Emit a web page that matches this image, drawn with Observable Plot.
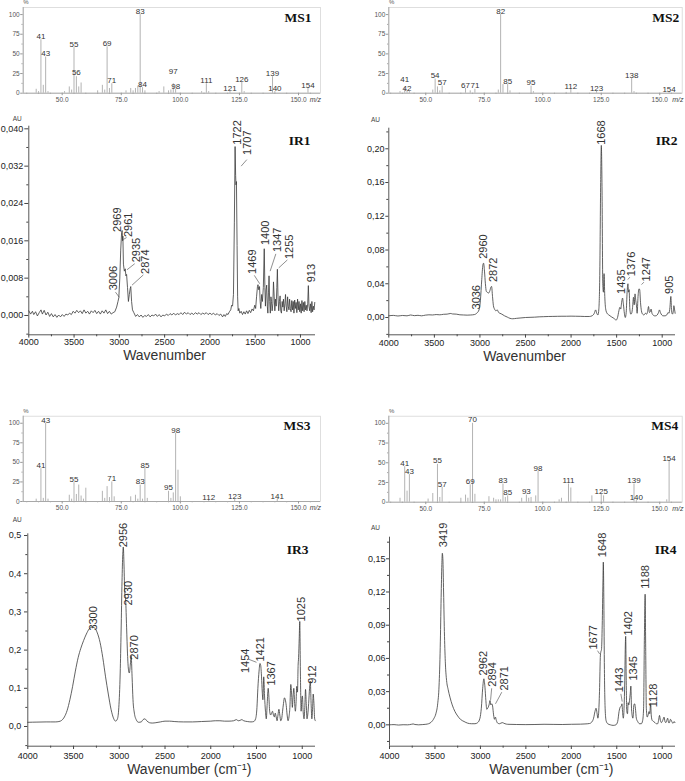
<!DOCTYPE html>
<html><head><meta charset="utf-8">
<script src="https://cdn.jsdelivr.net/npm/d3@7"></script>
<script src="https://cdn.jsdelivr.net/npm/@observablehq/plot@0.6"></script>
<style>
body{margin:0;background:#fff;width:685px;height:781px;position:relative;overflow:hidden;font-family:"Liberation Sans",Arial,sans-serif}
.panel{position:absolute}
.panel svg{overflow:visible;background:transparent}
</style></head><body>
<div id="ms1" class="panel" style="left:0;top:0"></div>
<div id="ms2" class="panel" style="left:340px;top:0"></div>
<div id="ir1" class="panel" style="left:0;top:105px"></div>
<div id="ir2" class="panel" style="left:340px;top:105px"></div>
<div id="ms3" class="panel" style="left:0;top:408px"></div>
<div id="ms4" class="panel" style="left:340px;top:408px"></div>
<div id="ir3" class="panel" style="left:0;top:515px"></div>
<div id="ir4" class="panel" style="left:340px;top:515px"></div>
<script>
// ---------- MS data: [m/z, relative intensity %] ----------
const ms1Peaks = [[39,5],[40,2],[41,68],[42,10],[43,46],[44,2],[51,2],[53,8],[54,4],[55,58],[56,21],[57,8],[58,13],[65,3],[67,10],[68,4],[69,59],[70,6],[71,12],[77,3],[79,6],[80,3],[81,6],[82,9],[83,100],[84,7],[85,3],[91,2],[93,8],[95,3],[96,4],[97,12],[98,5],[109,2],[111,12],[112,2],[121,2],[126,14],[127,2],[139,21],[140,2],[154,6]];
const ms1Labels = [[41,68.6],[43,46.6],[55,58],[56,23],[69,59.3],[71,12.7],[83,100.4],[84,7.6],[97,23.3],[98,5],[111,11.9],[121,2],[126,14],[139,21.2],[140,2],[154,6.4]];

const ms2Peaks = [[39,2],[41,7],[42,3],[43,2],[53,4],[54,18],[55,8],[56,3],[57,9],[67,6],[69,3],[71,5],[81,4],[82,100],[83,11],[85,11],[86,3],[95,9],[96,2],[110,1],[112,5],[123,2.5],[138,19],[139,2],[154,1]];
const ms2Labels = [[41,14],[42,2.4],[54,18.6],[57,9.3],[67,6.4],[71,5.9],[82,100],[85,11.4],[95,9.3],[112,5],[123,2.5],[138,19],[154,0.8]];

const ms3Peaks = [[39,3],[41,42],[42,4],[43,100],[44,3],[53,8],[54,3],[55,24],[56,9],[57,21],[58,7],[59,3],[60,17],[67,13],[68,4],[69,19],[70,5],[71,25],[72,6],[79,6],[81,8],[82,3],[83,21],[84,3],[85,42],[86,4],[95,13],[96,4],[97,11],[98,87],[99,40],[100,6],[112,1.5],[123,3],[141,3]];
const ms3Labels = [[41,42.5],[43,100],[55,24],[71,25.5],[83,22],[85,42.5],[95,14],[98,87],[112,1.3],[123,3],[141,3]];

const ms4Peaks = [[39,5],[41,45],[42,14],[43,35],[51,4],[53,11],[55,48],[56,6],[57,19],[65,5],[67,9],[68,5],[69,22],[70,100],[71,10],[77,7],[79,5],[80,3],[81,3],[82,3],[83,23],[84,6],[85,8],[91,5],[93,9],[94,5],[95,6],[97,8],[98,39],[107,3],[108,5],[111,23],[112,18],[121,8],[125,10],[126,8],[139,23],[140,2],[153,3],[154,52]];
const ms4Labels = [[41,45.5],[43,35],[55,48.5],[57,19],[69,22],[70,101],[83,23.4],[85,8.5],[93,9.4],[98,39],[111,23.4],[125,10.2],[139,23.4],[140,2],[154,52]];

const msYTicks = [0,25,50,75,100];
const msYMinor = [12.5,37.5,62.5,87.5];
const msXTicks = [50,75,100,125,150];
const msXMinor = [35,40,45,55,60,65,70,80,85,90,95,105,110,115,120,130,135,140,145,155];

// ---------- IR data: [wavenumber cm-1, absorbance AU] ----------
const ir1 = [[4000,0.0010],[3980,0.0003],[3960,0.0009],[3945,0.0002],[3925,0.0008],[3905,-0.0001],[3885,0.0006],[3865,0.0012],[3850,0.0003],[3830,0.0011],[3810,0.0001],[3790,0.0007],[3770,-0.0002],[3750,0.0004],[3730,-0.0003],[3710,0.0002],[3690,-0.0004],[3670,0.0001],[3650,-0.0003],[3630,0.0002],[3610,-0.0002],[3590,0.0003],[3570,0.0001],[3550,0.0005],[3530,0.0002],[3510,0.0009],[3490,0.0005],[3470,0.0011],[3450,0.0006],[3430,0.0010],[3410,0.0004],[3390,0.0012],[3370,0.0005],[3350,0.0009],[3330,0.0003],[3310,0.0010],[3290,0.0006],[3270,0.0011],[3250,0.0004],[3230,0.0009],[3210,0.0003],[3190,0.0010],[3170,0.0005],[3150,0.0012],[3130,0.0004],[3110,0.0009],[3090,0.0003],[3070,0.0006],[3050,0.0008],[3030,0.0018],[3015,0.0030],[3006,0.0038],[2995,0.0080],[2985,0.0140],[2975,0.0178],[2969,0.0182],[2964,0.0160],[2961,0.0170],[2955,0.0110],[2945,0.0095],[2935,0.0100],[2928,0.0085],[2920,0.0088],[2910,0.0060],[2900,0.0030],[2890,0.0045],[2880,0.0058],[2874,0.0062],[2865,0.0030],[2855,0.0012],[2840,0.0006],[2820,-0.0002],[2800,0.0002],[2780,-0.0003],[2760,0.0001],[2740,-0.0004],[2720,0.0000],[2700,-0.0002],[2680,0.0002],[2660,-0.0003],[2640,0.0001],[2620,-0.0001],[2600,0.0003],[2580,-0.0002],[2560,0.0002],[2540,-0.0003],[2520,0.0001],[2500,-0.0001],[2480,0.0003],[2460,0.0000],[2440,0.0004],[2420,0.0001],[2400,0.0005],[2380,0.0001],[2360,0.0004],[2340,0.0002],[2320,0.0006],[2300,0.0002],[2280,0.0007],[2260,0.0003],[2240,0.0006],[2220,0.0002],[2200,0.0005],[2180,0.0002],[2160,0.0006],[2140,0.0003],[2120,0.0006],[2100,0.0002],[2080,0.0005],[2060,0.0003],[2040,0.0006],[2020,0.0002],[2000,0.0005],[1980,0.0002],[1960,0.0005],[1940,0.0001],[1920,0.0004],[1900,0.0000],[1880,0.0003],[1860,-0.0003],[1845,0.0002],[1830,-0.0002],[1815,0.0004],[1800,0.0002],[1785,0.0008],[1770,0.0012],[1760,0.0022],[1750,0.0020],[1740,0.0045],[1730,0.0200],[1722,0.0362],[1716,0.0300],[1712,0.0280],[1707,0.0287],[1700,0.0150],[1694,0.0040],[1688,0.0010],[1680,0.0015],[1670,0.0005],[1655,0.0009],[1640,0.0002],[1625,0.0008],[1610,0.0003],[1595,0.0010],[1580,0.0004],[1565,0.0011],[1550,0.0006],[1535,0.0014],[1520,0.0010],[1505,0.0022],[1495,0.0015],[1485,0.0040],[1475,0.0062],[1469,0.0066],[1460,0.0055],[1452,0.0062],[1445,0.0030],[1438,0.0015],[1428,0.0045],[1420,0.0030],[1410,0.0060],[1400,0.0143],[1393,0.0060],[1387,0.0020],[1380,0.0055],[1373,0.0065],[1366,0.0020],[1360,0.0005],[1353,0.0050],[1347,0.0085],[1340,0.0030],[1333,0.0005],[1326,0.0040],[1320,0.0030],[1313,0.0010],[1305,0.0025],[1298,0.0072],[1290,0.0040],[1283,0.0010],[1276,0.0035],[1268,0.0020],[1261,0.0060],[1255,0.0099],[1248,0.0040],[1240,0.0010],[1232,0.0030],[1225,0.0042],[1218,0.0010],[1210,0.0005],[1202,0.0030],[1195,0.0018],[1188,0.0035],[1180,0.0010],[1172,0.0025],[1165,0.0045],[1158,0.0020],[1150,0.0008],[1142,0.0040],[1135,0.0020],[1127,0.0012],[1120,0.0035],[1112,0.0015],[1104,0.0008],[1096,0.0032],[1088,0.0012],[1080,0.0030],[1072,0.0005],[1064,0.0033],[1056,0.0015],[1048,0.0028],[1040,0.0006],[1032,0.0035],[1024,0.0012],[1016,0.0030],[1008,0.0008],[1000,0.0025],[992,0.0005],[984,0.0032],[976,0.0010],[968,0.0028],[960,0.0008],[952,0.0030],[944,0.0012],[936,0.0022],[928,0.0010],[920,0.0025],[913,0.0064],[906,0.0020],[898,0.0010],[890,0.0025],[882,0.0006],[874,0.0030],[866,0.0008],[858,0.0020],[850,0.0012],[842,0.0028]];
const ir1Labels = [["3006",3069,0.0054],["2969",3017,0.0179],["2961",2903,0.0168],["2935",2811,0.0114],["2874",2712,0.0089],["1722",1699,0.0366],["1707",1582,0.0344],["1469",1526,0.0089],["1400",1386,0.0151],["1347",1258,0.0136],["1255",1125,0.0121],["913",882,0.0071]];
const ir1Leaders = [[3000,0.0039,3043,0.0050],[2955,0.0163,2920,0.0167],[2915,0.0098,2830,0.0111],[2860,0.0065,2735,0.0087],[1655,0.0320,1592,0.0334],[1450,0.0068,1510,0.0086],[1335,0.0095,1272,0.0132],[1240,0.0102,1145,0.0119]];

const ir2 = [[4000,0.0020],[3950,0.0025],[3900,0.0018],[3850,0.0024],[3800,0.0020],[3760,0.0030],[3720,0.0022],[3680,0.0026],[3640,0.0020],[3600,0.0028],[3560,0.0032],[3520,0.0030],[3480,0.0035],[3440,0.0032],[3400,0.0038],[3360,0.0040],[3320,0.0048],[3300,0.0042],[3260,0.0040],[3220,0.0032],[3180,0.0030],[3140,0.0028],[3100,0.0030],[3060,0.0035],[3036,0.0050],[3010,0.0090],[2995,0.0200],[2980,0.0450],[2968,0.0620],[2960,0.0644],[2950,0.0550],[2940,0.0400],[2930,0.0310],[2920,0.0300],[2905,0.0290],[2890,0.0320],[2880,0.0360],[2872,0.0368],[2862,0.0250],[2852,0.0140],[2840,0.0100],[2825,0.0080],[2810,0.0090],[2795,0.0060],[2780,0.0050],[2760,0.0040],[2730,0.0020],[2700,0.0005],[2670,-0.0010],[2640,-0.0015],[2600,-0.0010],[2550,-0.0005],[2500,0.0000],[2450,0.0002],[2400,0.0004],[2350,0.0008],[2300,0.0010],[2250,0.0012],[2200,0.0013],[2150,0.0014],[2100,0.0015],[2050,0.0015],[2000,0.0016],[1950,0.0015],[1900,0.0014],[1850,0.0012],[1800,0.0012],[1770,0.0020],[1745,0.0050],[1730,0.0090],[1718,0.0050],[1705,0.0030],[1695,0.0100],[1685,0.0500],[1675,0.1600],[1668,0.2040],[1660,0.1500],[1652,0.0400],[1645,0.0300],[1638,0.0520],[1630,0.0250],[1620,0.0100],[1605,0.0050],[1585,0.0030],[1560,0.0010],[1530,-0.0010],[1505,-0.0030],[1490,0.0000],[1475,0.0080],[1465,0.0120],[1455,0.0100],[1445,0.0180],[1435,0.0230],[1425,0.0150],[1415,0.0050],[1405,0.0000],[1395,0.0060],[1385,0.0300],[1376,0.0400],[1370,0.0300],[1363,0.0330],[1355,0.0100],[1345,0.0040],[1335,0.0050],[1325,0.0120],[1315,0.0240],[1307,0.0150],[1298,0.0280],[1290,0.0200],[1283,0.0150],[1275,0.0050],[1265,0.0250],[1255,0.0340],[1247,0.0330],[1238,0.0180],[1228,0.0080],[1215,0.0040],[1200,0.0030],[1185,0.0050],[1170,0.0040],[1160,0.0070],[1150,0.0130],[1140,0.0060],[1130,0.0070],[1122,0.0100],[1112,0.0050],[1100,0.0030],[1085,0.0020],[1070,0.0020],[1055,0.0030],[1040,0.0060],[1030,0.0090],[1020,0.0060],[1005,0.0030],[990,0.0020],[970,0.0020],[950,0.0030],[935,0.0060],[925,0.0050],[915,0.0120],[905,0.0250],[897,0.0080],[888,0.0040],[880,0.0060],[872,0.0140],[865,0.0100],[858,0.0050]];
const ir2Labels = [["3036",3038,0.0095],["2960",2965,0.0696],["2872",2855,0.042],["1668",1662,0.2047],["1435",1446,0.028],["1376",1340,0.049],["1247",1176,0.0427],["905",916,0.028]];
const ir2Leaders = [[1377,0.045,1355,0.0478],[1227,0.039,1201,0.0419]];

const ir3 = [[4000,0.0110],[3900,0.0115],[3800,0.0120],[3750,0.0120],[3700,0.0120],[3660,0.0130],[3630,0.0160],[3600,0.0250],[3570,0.0420],[3540,0.0700],[3510,0.1050],[3480,0.1450],[3450,0.1800],[3420,0.2050],[3390,0.2250],[3360,0.2420],[3330,0.2550],[3300,0.2600],[3270,0.2580],[3240,0.2450],[3210,0.2200],[3180,0.1800],[3150,0.1300],[3120,0.0850],[3090,0.0450],[3060,0.0200],[3040,0.0140],[3020,0.0200],[3005,0.0500],[2990,0.1400],[2980,0.2500],[2970,0.3800],[2962,0.4500],[2956,0.4700],[2948,0.4200],[2940,0.3500],[2930,0.3300],[2920,0.2600],[2910,0.1900],[2900,0.1500],[2890,0.1400],[2880,0.1600],[2870,0.1850],[2860,0.1300],[2850,0.0700],[2835,0.0350],[2815,0.0180],[2790,0.0110],[2760,0.0120],[2740,0.0180],[2720,0.0200],[2700,0.0150],[2670,0.0100],[2640,0.0090],[2600,0.0100],[2550,0.0120],[2500,0.0140],[2450,0.0140],[2400,0.0130],[2300,0.0120],[2200,0.0120],[2100,0.0130],[2000,0.0140],[1950,0.0150],[1900,0.0150],[1850,0.0140],[1800,0.0140],[1750,0.0150],[1720,0.0180],[1700,0.0150],[1680,0.0160],[1660,0.0180],[1640,0.0150],[1600,0.0130],[1560,0.0120],[1530,0.0130],[1510,0.0200],[1495,0.0500],[1485,0.1000],[1472,0.1450],[1462,0.1650],[1454,0.1600],[1445,0.1300],[1437,0.0900],[1430,0.0700],[1421,0.1300],[1412,0.0800],[1402,0.0400],[1393,0.0200],[1383,0.0600],[1372,0.1000],[1365,0.0800],[1356,0.0400],[1345,0.0300],[1335,0.0350],[1325,0.0400],[1315,0.0300],[1305,0.0250],[1295,0.0350],[1285,0.0250],[1275,0.0150],[1265,0.0300],[1255,0.0450],[1245,0.0300],[1235,0.0150],[1225,0.0200],[1215,0.0400],[1205,0.0600],[1195,0.0750],[1185,0.0700],[1175,0.0550],[1165,0.0300],[1155,0.0150],[1145,0.0250],[1135,0.0500],[1125,0.1100],[1115,0.0800],[1108,0.0500],[1100,0.0800],[1092,0.1000],[1083,0.0600],[1075,0.0400],[1068,0.0600],[1060,0.1050],[1052,0.0900],[1045,0.1600],[1040,0.1800],[1033,0.2300],[1027,0.2750],[1020,0.1400],[1012,0.0400],[1005,0.0700],[998,0.0800],[990,0.0400],[980,0.0200],[972,0.0500],[964,0.0970],[956,0.0600],[948,0.0200],[940,0.0300],[930,0.0600],[920,0.1000],[912,0.1190],[903,0.0600],[895,0.0200],[888,0.0400],[880,0.0850],[872,0.0600],[864,0.0200],[856,0.0150]];
const ir3Labels = [["3300",3278,0.251],["2956",2950,0.469],["2930",2896,0.317],["2870",2834,0.175],["1454",1619,0.140],["1421",1458,0.170],["1367",1335,0.107],["1025",1012,0.275],["912",890,0.112]];
const ir3Leaders = [[1585,0.176,1500,0.168]];

const ir4 = [[4000,0.0000],[3950,0.0002],[3900,-0.0002],[3850,0.0001],[3800,0.0000],[3760,0.0005],[3740,0.0008],[3720,0.0003],[3680,0.0000],[3640,0.0002],[3600,0.0005],[3570,0.0010],[3540,0.0025],[3510,0.0060],[3490,0.0100],[3470,0.0190],[3455,0.0350],[3442,0.0700],[3432,0.1150],[3424,0.1450],[3419,0.1550],[3413,0.1500],[3405,0.1200],[3395,0.0800],[3385,0.0550],[3372,0.0400],[3355,0.0320],[3335,0.0250],[3310,0.0180],[3280,0.0120],[3250,0.0080],[3220,0.0050],[3180,0.0030],[3140,0.0015],[3100,0.0010],[3060,0.0010],[3030,0.0020],[3005,0.0060],[2990,0.0150],[2975,0.0330],[2962,0.0416],[2950,0.0340],[2940,0.0220],[2930,0.0140],[2920,0.0150],[2905,0.0180],[2894,0.0220],[2885,0.0180],[2875,0.0190],[2866,0.0170],[2855,0.0090],[2845,0.0050],[2835,0.0070],[2825,0.0040],[2810,0.0015],[2790,0.0010],[2760,0.0020],[2730,0.0010],[2700,0.0005],[2600,0.0003],[2500,0.0002],[2400,0.0003],[2300,0.0005],[2200,0.0004],[2100,0.0003],[2000,0.0005],[1900,0.0006],[1850,0.0008],[1800,0.0012],[1775,0.0025],[1755,0.0060],[1740,0.0120],[1728,0.0150],[1718,0.0110],[1708,0.0060],[1700,0.0100],[1690,0.0300],[1680,0.0630],[1675,0.0660],[1668,0.0680],[1660,0.0900],[1652,0.1300],[1648,0.1470],[1642,0.1100],[1636,0.0500],[1628,0.0150],[1618,0.0040],[1600,0.0010],[1570,0.0000],[1540,-0.0005],[1510,0.0000],[1490,0.0030],[1475,0.0120],[1462,0.0160],[1450,0.0170],[1443,0.0190],[1435,0.0100],[1428,0.0060],[1420,0.0150],[1412,0.0400],[1405,0.0750],[1402,0.0800],[1396,0.0400],[1390,0.0120],[1382,0.0100],[1375,0.0200],[1368,0.0180],[1360,0.0220],[1352,0.0280],[1345,0.0350],[1338,0.0150],[1330,0.0080],[1322,0.0060],[1312,0.0180],[1303,0.0190],[1295,0.0150],[1285,0.0060],[1270,0.0030],[1250,0.0010],[1230,0.0010],[1215,0.0040],[1205,0.0150],[1196,0.0800],[1188,0.1180],[1182,0.0700],[1175,0.0150],[1165,0.0070],[1155,0.0090],[1145,0.0120],[1137,0.0100],[1128,0.0190],[1120,0.0080],[1110,0.0040],[1095,0.0030],[1080,0.0020],[1065,0.0010],[1050,0.0010],[1040,0.0040],[1030,0.0085],[1020,0.0040],[1010,0.0020],[1000,0.0030],[990,0.0050],[980,0.0070],[970,0.0030],[960,0.0020],[950,0.0040],[940,0.0060],[930,0.0020],[920,0.0020],[910,0.0050],[900,0.0040],[890,0.0020],[880,0.0015],[870,0.0030],[860,0.0020]];
const ir4Labels = [["3419",3402,0.1605],["2962",2969,0.0446],["2894",2870,0.0345],["2871",2740,0.031],["1677",1758,0.068],["1648",1652,0.1515],["1443",1466,0.0295],["1402",1374,0.0807],["1345",1312,0.040],["1188",1184,0.1229],["1128",1099,0.0159]];
const ir4Leaders = [[2888,0.0225,2876,0.033],[2834,0.019,2765,0.0295],[1712,0.067,1688,0.064],[1440,0.021,1455,0.028]];

const irXTicks = [4000,3500,3000,2500,2000,1500,1000];
const irXMinor = [3750,3250,2750,2250,1750,1250];

const FONT = "Liberation Sans, Arial, sans-serif";

function msPlot(peaks, labels, title, o) {
  const blank = () => "";
  return Plot.plot({
    width: o.w, height: 105,
    marginLeft: o.ml, marginRight: o.mr, marginTop: o.mt, marginBottom: o.mb,
    x: {domain: o.xd, axis: null},
    y: {domain: [0, 109], axis: null},
    style: {fontFamily: FONT, color: "#555", background: "transparent", overflow: "visible"},
    marks: [
      Plot.frame({stroke: "#d6d6d6", strokeWidth: 0.8}),
      Plot.ruleX(peaks, {x: d => d[0], y1: 0, y2: d => d[1], stroke: "#b3b3b3", strokeWidth: 1}),
      Plot.ruleX([o.xd[0]], {stroke: "#9a9a9a", strokeWidth: 0.8}),
      Plot.ruleY([0], {stroke: "#9a9a9a", strokeWidth: 0.8}),
      Plot.axisY({ticks: msYTicks, tickSize: 2.5, tickPadding: 1, fontSize: 6.5, tickFormat: d => String(d), label: null, stroke: "#999", fill: "#555"}),
      Plot.axisY({ticks: msYMinor, tickSize: 1.3, tickFormat: blank, label: null, stroke: "#aaa"}),
      Plot.axisX({ticks: msXTicks, tickSize: 2.5, tickPadding: 1.5, fontSize: 6.5, tickFormat: d => d.toFixed(1), label: null, stroke: "#999", fill: "#555"}),
      Plot.axisX({ticks: msXMinor, tickSize: 1.3, tickFormat: blank, label: null, stroke: "#aaa"}),
      Plot.text(labels, {x: d => d[0], y: d => d[1], text: d => String(d[0]), fontSize: 8, fill: "#333", lineAnchor: "bottom", dy: -0.5}),
      Plot.text([title], {frameAnchor: "top-right", text: d => d, fontFamily: "Liberation Serif, Times New Roman, serif", fontWeight: "bold", fontSize: 13.5, textAnchor: "end", lineAnchor: "bottom", dx: o.tdx, dy: 14, fill: "#111"}),
      Plot.text(["%"], {frameAnchor: "top-left", text: d => d, fontSize: 6, textAnchor: "middle", lineAnchor: "bottom", dx: 2.8, dy: -3.5, fill: "#555"}),
      Plot.text(["m/z"], {frameAnchor: "bottom-right", text: d => d, fontSize: 7, fontStyle: "italic", textAnchor: "end", lineAnchor: "bottom", dx: o.mzdx, dy: 8.3, fill: "#444"})
    ]
  });
}

function irPlot(data, labels, leaders, title, o) {
  const blank = () => "";
  return Plot.plot({
    width: o.w, height: o.h,
    marginLeft: o.ml, marginRight: o.mr, marginTop: o.mt, marginBottom: o.mb,
    x: {domain: o.xd, axis: null},
    y: {domain: o.yd, axis: null},
    style: {fontFamily: FONT, color: "#333", background: "transparent", overflow: "visible"},
    marks: [
      Plot.ruleX([o.xd[0]], {stroke: "#444", strokeWidth: 0.9}),
      Plot.ruleY([o.yd[0]], {stroke: "#444", strokeWidth: 0.9}),
      Plot.axisY({ticks: o.yt, tickSize: o.yts, tickPadding: o.ytp, fontSize: 9, tickFormat: o.fmt, label: null, stroke: "#444", fill: "#222"}),
      Plot.axisY({ticks: o.ym, tickSize: 2, tickFormat: blank, label: null, stroke: "#444"}),
      Plot.axisX({ticks: irXTicks, tickSize: 3.3, tickPadding: o.xtp, fontSize: 9, tickFormat: d => String(d), label: null, stroke: "#444", fill: "#222"}),
      Plot.axisX({ticks: irXMinor, tickSize: 2, tickFormat: blank, label: null, stroke: "#444"}),
      Plot.line(data, {x: d => d[0], y: d => d[1], stroke: "#3a3a3a", strokeWidth: 0.8, curve: o.curve}),
      Plot.link(leaders, {x1: d => d[0], y1: d => d[1], x2: d => d[2], y2: d => d[3], stroke: "#444", strokeWidth: 0.6}),
      Plot.text(labels, {x: d => d[1], y: d => d[2], text: d => d[0], rotate: -90, textAnchor: "start", lineAnchor: "middle", fontSize: 11, fill: "#333"}),
      Plot.text([title], {frameAnchor: "top-right", text: d => d, fontFamily: "Liberation Serif, Times New Roman, serif", fontWeight: "bold", fontSize: 13.5, textAnchor: "end", lineAnchor: "bottom", dx: o.tdx, dy: o.tdy, fill: "#111"}),
      Plot.text(["AU"], {frameAnchor: "top-left", text: d => d, fontSize: 6.5, textAnchor: "middle", lineAnchor: "bottom", dx: o.audx, dy: o.audy, fill: "#444"}),
      Plot.text([o.xlabel], {frameAnchor: "bottom-left", text: d => d, fontSize: 14, textAnchor: "middle", lineAnchor: "bottom", dx: o.xldx, dy: o.xldy, fill: "#333"})
    ]
  });
}

const f3 = d => d.toFixed(3).replace(".", ",");
const f2 = d => d.toFixed(2).replace(".", ",");
const f1 = d => d.toFixed(1).replace(".", ",");

document.getElementById("ms1").append(msPlot(ms1Peaks, ms1Labels, "MS1", {w: 340, ml: 22.7, mr: 20, mt: 7, mb: 12.3, xd: [33.5, 159.3], tdx: -9, mzdx: 0.5}));
document.getElementById("ms2").append(msPlot(ms2Peaks, ms2Labels, "MS2", {w: 345, ml: 48.3, mr: 3.3, mt: 7, mb: 12.3, xd: [34.2, 159.6], tdx: -3, mzdx: 1.3}));
document.getElementById("ms3").append(msPlot(ms3Peaks, ms3Labels, "MS3", {w: 340, ml: 22.7, mr: 20, mt: 7.7, mb: 12, xd: [33.5, 159.3], tdx: -10, mzdx: 0.5}));
document.getElementById("ms4").append(msPlot(ms4Peaks, ms4Labels, "MS4", {w: 345, ml: 48.3, mr: 3.3, mt: 7.7, mb: 11.3, xd: [34.2, 159.6], tdx: -4, mzdx: 1.3}));

document.getElementById("ir1").append(irPlot(ir1, ir1Labels, ir1Leaders, "IR1", {w: 340, h: 260, ml: 28.3, mr: 25, mt: 20.7, mb: 30.7, xd: [4000, 834], yd: [-0.00414, 0.04056], yt: [0,0.008,0.016,0.024,0.032,0.040], ym: [-0.004,0.004,0.012,0.020,0.028,0.036], fmt: f3, yts: 4, ytp: 1.6, xtp: 0.5, curve: "linear", tdx: -5, tdy: 18.3, audx: -11.6, audy: -5, xlabel: "Wavenumber", xldx: 135.7, xldy: 25}));
document.getElementById("ir2").append(irPlot(ir2, ir2Labels, ir2Leaders, "IR2", {w: 345, h: 260, ml: 48.3, mr: 10, mt: 22.7, mb: 30.7, xd: [4000, 854], yd: [-0.0205, 0.2244], yt: [0,0.04,0.08,0.12,0.16,0.20], ym: [-0.02,0.02,0.06,0.10,0.14,0.18,0.22], fmt: f2, yts: 3, ytp: 1.3, xtp: 1.5, curve: "monotone-x", tdx: 2, tdy: 16.3, audx: -13.3, audy: -6.7, xlabel: "Wavenumber", xldx: 135.7, xldy: 26}));
document.getElementById("ir3").append(irPlot(ir3, ir3Labels, ir3Leaders, "IR3", {w: 340, h: 266, ml: 27.3, mr: 25, mt: 18.3, mb: 35.3, xd: [4000, 855], yd: [-0.0516, 0.5045], yt: [0,0.1,0.2,0.3,0.4,0.5], ym: [-0.05,0.05,0.15,0.25,0.35,0.45], fmt: f1, yts: 3.3, ytp: 3.3, xtp: 2.7, curve: "monotone-x", tdx: -7, tdy: 19.7, audx: -10.6, audy: -11.6, xlabel: "Wavenumber (cm⁻¹)", xldx: 161.5, xldy: 27.3}));
document.getElementById("ir4").append(irPlot(ir4, ir4Labels, ir4Leaders, "IR4", {w: 345, h: 266, ml: 49, mr: 10, mt: 21.7, mb: 35.3, xd: [4000, 854], yd: [-0.0193, 0.1695], yt: [0,0.03,0.06,0.09,0.12,0.15], ym: [-0.015,0.015,0.045,0.075,0.105,0.135,0.165], fmt: f2, yts: 3, ytp: 1, xtp: 2.7, curve: "monotone-x", tdx: 1, tdy: 16.3, audx: -14, audy: -7.7, xlabel: "Wavenumber (cm⁻¹)", xldx: 161.8, xldy: 27.3}));
</script>
</body></html>
